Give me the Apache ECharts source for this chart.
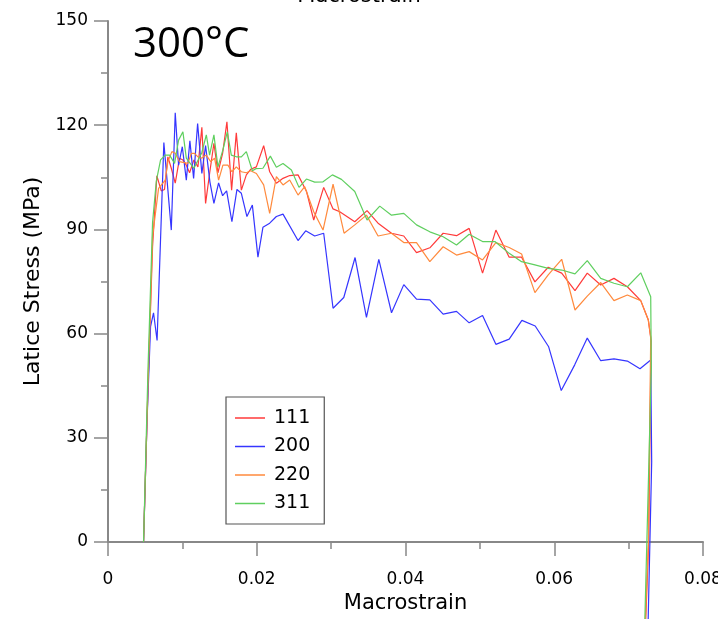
<!DOCTYPE html>
<html>
<head>
<meta charset="utf-8">
<script src="https://cdn.jsdelivr.net/npm/echarts@6/dist/echarts.min.js"></script>
<style>html,body{margin:0;padding:0;background:#fff;}#c{width:718px;height:619px;}</style>
</head>
<body>
<div id="c"></div>
<script>
// ---- data ----
const seriesNames = ['111', '200', '220', '311'];
const xTicks = [0, 0.02, 0.04, 0.06, 0.08];
const yTicks = [0, 30, 60, 90, 120, 150];

const strain111 = [0.00478,0.00538,0.00599,0.00657,0.00716,0.00760,0.00805,0.00851,0.00904,0.00962,0.01007,0.01053,0.01097,0.01155,0.01209,0.01262,0.01312,0.01366,0.01424,0.01478,0.01541,0.01599,0.01662,0.01725,0.01793,0.01860,0.01918,0.01995,0.02093,0.02174,0.02264,0.02353,0.02443,0.02555,0.02668,0.02766,0.02900,0.03026,0.03116,0.03318,0.03483,0.03631,0.03812,0.03977,0.04148,0.04327,0.04506,0.04686,0.04856,0.05036,0.05215,0.05394,0.05561,0.05740,0.05919,0.06100,0.06279,0.06444,0.06625,0.06803,0.06983,0.07163,0.07265,0.07302,0.07270,0.07225];
const stress111 = [0,45,85,105.4,101.1,101.5,110.9,107.6,103.3,110.5,110.0,108.5,106.3,110.0,108.0,119.4,97.5,106.1,114.8,106.3,111.9,121.0,101.3,117.8,101.3,105.7,107.3,108.0,114.1,106.6,103.3,104.7,105.5,105.7,101.0,92.7,102.1,95.9,95.1,92.2,95.4,91.8,88.9,88.1,83.3,84.7,88.9,88.2,90.3,77.4,89.8,82.0,82.0,74.9,79.1,77.4,72.4,77.4,74.0,75.9,73.5,69.5,63.9,58,0,-25];

const strain200 = [0.00478,0.00525,0.00572,0.00612,0.00660,0.00751,0.00851,0.00904,0.00949,0.00999,0.01053,0.01101,0.01151,0.01205,0.01262,0.01312,0.01370,0.01424,0.01487,0.01541,0.01595,0.01666,0.01734,0.01793,0.01868,0.01941,0.02016,0.02083,0.02174,0.02264,0.02353,0.02555,0.02658,0.02779,0.02900,0.03026,0.03170,0.03322,0.03475,0.03641,0.03812,0.03977,0.04148,0.04327,0.04506,0.04686,0.04856,0.05036,0.05215,0.05394,0.05565,0.05744,0.05925,0.06094,0.06275,0.06444,0.06625,0.06803,0.06983,0.07153,0.07297,0.07310,0.07260];
const stress200 = [0,35,62,66,58,115.0,89.8,123.6,108.5,113.8,104.2,115.5,104.7,120.5,106.1,114.1,103.7,97.5,103.4,99.7,101.1,92.2,101.5,100.4,93.7,97.0,82.0,90.6,91.8,93.7,94.4,86.8,89.6,88.1,88.9,67.3,70.4,81.9,64.7,81.4,66.0,74.1,69.9,69.7,65.6,66.4,63.1,65.2,56.9,58.4,63.8,62.2,56.2,43.6,51.0,58.7,52.2,52.7,52.1,49.9,52.4,23,-25];

const strain220 = [0.00478,0.00538,0.00599,0.00680,0.00770,0.00805,0.00859,0.00904,0.00962,0.01074,0.01120,0.01164,0.01209,0.01254,0.01322,0.01380,0.01433,0.01487,0.01545,0.01612,0.01666,0.01725,0.01793,0.01860,0.01918,0.01995,0.02093,0.02174,0.02264,0.02353,0.02443,0.02555,0.02645,0.02766,0.02891,0.03026,0.03174,0.03318,0.03475,0.03631,0.03812,0.03977,0.04148,0.04327,0.04506,0.04686,0.04856,0.05036,0.05215,0.05394,0.05561,0.05740,0.05919,0.06100,0.06279,0.06444,0.06625,0.06803,0.06983,0.07163,0.07265,0.07297,0.07265,0.07220];
const stress220 = [0,45,88,101.8,104.2,109.5,112.4,111.9,109.5,109.0,111.9,111.9,110.9,110.5,111.4,109.5,110.5,104.2,108.5,108.5,106.6,108.0,106.6,106.3,106.9,106.1,102.8,94.6,105.2,102.8,104.2,99.9,102.3,95.1,89.8,103.0,88.9,91.3,94.1,88.1,88.9,86.2,86.2,80.7,85.0,82.6,83.6,81.2,86.2,84.8,82.9,71.8,76.9,81.4,66.8,70.8,74.7,69.5,71.1,69.5,63.9,59.1,0,-25];

const strain311 = [0.00478,0.00538,0.00599,0.00650,0.00707,0.00770,0.00828,0.00895,0.00949,0.01007,0.01053,0.01155,0.01260,0.01322,0.01366,0.01424,0.01478,0.01545,0.01604,0.01658,0.01725,0.01793,0.01860,0.01941,0.01990,0.02083,0.02183,0.02264,0.02353,0.02466,0.02568,0.02668,0.02779,0.02891,0.03017,0.03139,0.03318,0.03483,0.03654,0.03812,0.03977,0.04148,0.04327,0.04506,0.04686,0.04856,0.05036,0.05202,0.05394,0.05561,0.05740,0.05919,0.06100,0.06279,0.06444,0.06625,0.06803,0.06983,0.07163,0.07297,0.07305,0.07215];
const stress311 = [0,50,92,104,110.0,111.4,111.4,109.0,115.7,118.1,110.5,107.6,112.0,117.2,111.4,117.2,108.0,112.9,118.1,111.4,110.9,110.9,112.4,106.9,107.5,107.6,111.1,107.9,109.0,107.1,102.1,104.5,103.6,103.7,105.7,104.4,100.9,92.7,96.7,94.1,94.6,91.3,89.3,87.9,85.5,88.6,86.5,86.5,83.1,80.7,79.8,78.8,78.3,77.2,81.0,75.9,74.5,73.5,77.5,70.6,50,-25];

const colors = ['#ff3a3a', '#3535ff', '#ff8a3d', '#5fcf5f'];
const strains = [strain111, strain200, strain220, strain311];
const stresses = [stress111, stress200, stress220, stress311];

const FONT = 'DejaVu Sans, Liberation Sans, sans-serif';
const chart = echarts.init(document.getElementById('c'), null, {renderer: 'canvas'});

const series = seriesNames.map((n, i) => ({
  name: n,
  type: 'line',
  data: strains[i].map((x, k) => [x, stresses[i][k]]),
  symbol: 'none',
  clip: false,
  lineStyle: {color: colors[i], width: 1.2},
  itemStyle: {color: colors[i]},
  animation: false
}));

const axisLineStyle = {color: '#888', width: 2};
chart.setOption({
  backgroundColor: '#fff',
  animation: false,
  grid: {left: 108, top: 21, width: 595, height: 521, containLabel: false, outerBoundsMode: 'none'},
  xAxis: {
    type: 'value', min: xTicks[0], max: xTicks[xTicks.length - 1], interval: 0.02,
    name: 'Macrostrain', nameLocation: 'middle', nameGap: 51,
    nameTextStyle: {fontFamily: FONT, fontSize: 21, color: '#000'},
    axisLine: {show: true, lineStyle: axisLineStyle},
    axisTick: {show: true, length: 14, lineStyle: {color: '#888', width: 1.5}},
    minorTick: {show: true, splitNumber: 2, length: 7, lineStyle: {color: '#888', width: 1.5}},
    splitLine: {show: false},
    axisLabel: {fontFamily: FONT, fontSize: 17, color: '#000', margin: 29,
      formatter: v => (v === 0 ? '0' : String(+v.toFixed(2)))}
  },
  yAxis: {
    type: 'value', min: yTicks[0], max: yTicks[yTicks.length - 1], interval: 30,
    name: 'Latice Stress (MPa)', nameLocation: 'middle', nameGap: 64,
    nameTextStyle: {fontFamily: FONT, fontSize: 22, color: '#000'},
    axisLine: {show: true, lineStyle: axisLineStyle},
    axisTick: {show: true, length: 14, lineStyle: {color: '#888', width: 1.5}},
    minorTick: {show: true, splitNumber: 2, length: 7, lineStyle: {color: '#888', width: 1.5}},
    splitLine: {show: false},
    axisLabel: {fontFamily: FONT, fontSize: 17, color: '#000', margin: 20}
  },
  legend: {
    show: true,
    orient: 'vertical',
    left: 226, top: 397,
    padding: [11.5, 14, 11, 9],
    itemGap: 9.5,
    itemWidth: 30, itemHeight: 1.5,
    icon: 'rect',
    borderColor: '#555', borderWidth: 1.2,
    backgroundColor: '#fff',
    textStyle: {fontFamily: FONT, fontSize: 19, color: '#000', lineHeight: 19, padding: [0, 0, 0, 4]},
    data: seriesNames.map((n, i) => ({name: n, itemStyle: {color: colors[i]}}))
  },
  graphic: [
    {type: 'text', left: 133, top: 24, style: {text: '300°C', fontFamily: 'Open Sans, Noto Sans, sans-serif', fontSize: 42, fill: '#000'}},
    {type: 'text', left: 'center', top: -14, style: {text: 'Macrostrain', fontFamily: FONT, fontSize: 21, fill: '#000'}}
  ],
  series: series
});
</script>
</body>
</html>
